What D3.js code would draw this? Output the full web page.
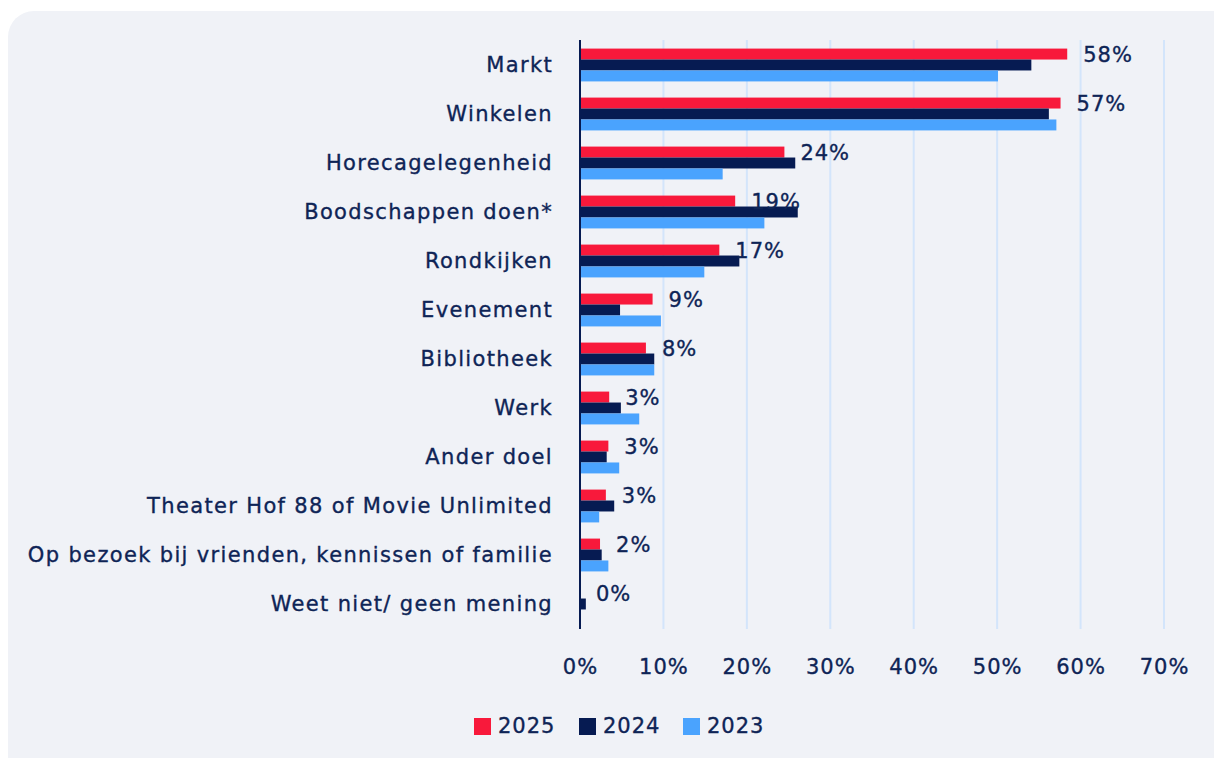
<!DOCTYPE html>
<html><head><meta charset="utf-8">
<script src="https://cdn.jsdelivr.net/npm/d3@7"></script>
<style>html,body{margin:0;padding:0;background:#fff;}svg{display:block;font-family:"DejaVu Sans",sans-serif;}</style>
</head><body>
<svg id="chart" width="1214" height="758"></svg>
<script>
const categories = ["Markt","Winkelen","Horecagelegenheid","Boodschappen doen*","Rondkijken","Evenement","Bibliotheek","Werk","Ander doel","Theater Hof 88 of Movie Unlimited","Op bezoek bij vrienden, kennissen of familie","Weet niet/ geen mening"];
const series = ["2025","2024","2023"];
const values2025 = [58.4,57.6,24.5,18.6,16.7,8.7,7.9,3.5,3.4,3.1,2.4,0];
const values2024 = [54.1,56.2,25.8,26.1,19.1,4.8,8.9,4.9,3.2,4.1,2.6,0.7];
const values2023 = [50.1,57.1,17.1,22.1,14.9,9.7,8.9,7.1,4.7,2.3,3.4,0];
const labels2025 = ["58%","57%","24%","19%","17%","9%","8%","3%","3%","3%","2%","0%"];
const xTicks = [0,10,20,30,40,50,60,70];
const colors = {"2025":"#f8193b","2024":"#061b52","2023":"#4aa3fe"};
const textColor = "#0e2456";
const FONT = "'DejaVu Sans',sans-serif";

const svg = d3.select("#chart");
svg.append("rect").attr("x",8).attr("y",11).attr("width",1230).attr("height",780).attr("rx",26).attr("fill","#f0f2f7");

const x = d3.scaleLinear().domain([0,70]).range([580,1164]);
const y = d3.scaleBand().domain(categories).range([40.5,628.5]).paddingInner(0.33).paddingOuter(0.165);
const y1 = d3.scaleBand().domain(series).range([0,y.bandwidth()]);

const data = {"2025":values2025,"2024":values2024,"2023":values2023};

function styleText(sel, ls){
  sel.attr("font-size",21).attr("letter-spacing",ls).attr("fill",textColor)
     .attr("stroke",textColor).attr("stroke-width",0.35).style("font-family",FONT);
}

// gridlines
svg.append("g").selectAll("line").data(xTicks.slice(1)).join("line")
  .attr("x1",d=>x(d)).attr("x2",d=>x(d)).attr("y1",40).attr("y2",629)
  .attr("stroke","#d3e5fb").attr("stroke-width",2);

// bars
const g = svg.append("g");
categories.forEach((c,i)=>{
  series.forEach(s=>{
    const v = data[s][i];
    if (v>0) g.append("rect").attr("x",x(0)).attr("y",y(c)+y1(s))
      .attr("width",x(v)-x(0)).attr("height",y1.bandwidth()).attr("fill",colors[s]);
  });
  styleText(g.append("text").attr("x",x(values2025[i])+16).attr("y",y(c)+y1("2025")+y1.bandwidth()/2+2)
    .attr("dominant-baseline","middle").text(labels2025[i]), 1);
});

// category labels
const yAxis = d3.axisLeft(y).tickSize(0).tickPadding(27);
const ya = svg.append("g").attr("transform",`translate(${x(0)},0)`).call(yAxis);
ya.select(".domain").remove();
styleText(ya.selectAll("text"), 1.35);

// axis line
svg.append("line").attr("x1",x(0)).attr("x2",x(0)).attr("y1",40).attr("y2",629).attr("stroke","#061b52").attr("stroke-width",2);

// x axis labels
const xAxis = d3.axisBottom(x).tickValues(xTicks).tickFormat(d=>d+"%").tickSize(0).tickPadding(22);
const xa = svg.append("g").attr("transform","translate(0,637)").call(xAxis);
xa.select(".domain").remove();
styleText(xa.selectAll("text"), 1);

// legend
const legX = [474,579,683];
series.forEach((s,i)=>{
  svg.append("rect").attr("x",legX[i]).attr("y",718).attr("width",17).attr("height",17).attr("fill",colors[s]);
  styleText(svg.append("text").attr("x",legX[i]+24).attr("y",727).attr("dominant-baseline","middle").text(s), 1);
});
</script>
</body></html>
